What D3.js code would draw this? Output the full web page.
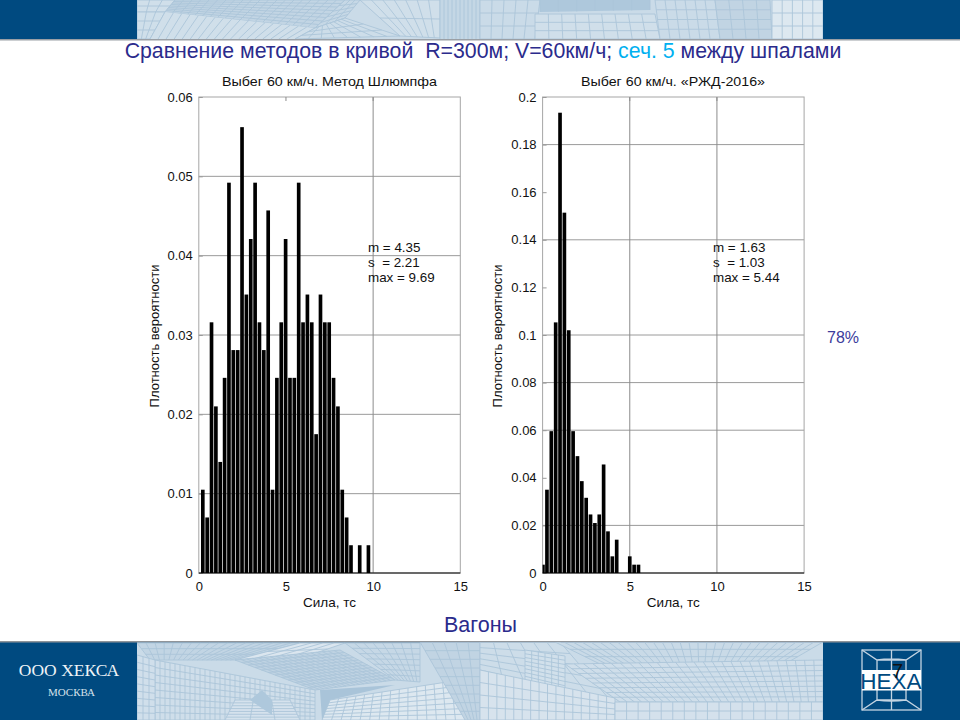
<!DOCTYPE html>
<html lang="ru">
<head>
<meta charset="UTF-8">
<title>Сравнение методов</title>
<script src="https://d3js.org/d3.v7.min.js"></script>
<style>
  html, body { margin: 0; padding: 0; background: #fff; }
  svg { display: block; }
  text { font-family: "Liberation Sans", Arial, sans-serif; }
</style>
</head>
<body>
<div id="chart"></div>
<script>
// left plot: Метод Шлюмпфа
var leftCenters = [0.23,0.48,0.73,0.98,1.23,1.48,1.73,1.98,2.23,2.48,2.73,2.98,3.23,3.48,3.73,3.98,4.23,4.48,4.73,4.98,5.23,5.48,5.73,5.98,6.23,6.48,6.73,6.98,7.23,7.48,7.73,7.98,8.23,8.48,8.73,9.23,9.73];
var leftValues = [0.0105,0.007,0.0316,0.021,0.014,0.0246,0.0492,0.0281,0.0281,0.0562,0.0351,0.0421,0.0492,0.0316,0.0281,0.0457,0.0105,0.0246,0.0316,0.0421,0.0246,0.0246,0.0492,0.0316,0.0351,0.0316,0.0175,0.0351,0.0316,0.0316,0.0246,0.021,0.0105,0.007,0.0035,0.0035,0.0035];
var leftYTicks = [0,0.01,0.02,0.03,0.04,0.05,0.06];
var leftYGrid = [0.01,0.02,0.03,0.04,0.05];
var leftXGrid = [10];
var leftStats = ["m = 4.35","s  = 2.21","max = 9.69"];

// right plot: РЖД-2016
var rightCenters = [0.02,0.25,0.5,0.75,1,1.25,1.5,1.75,2,2.25,2.5,2.75,3,3.25,3.5,3.75,4,4.25,5,5.25,5.5];
var rightValues = [0.0035,0.035,0.0596,0.1053,0.1934,0.1514,0.102,0.0596,0.0491,0.0386,0.0316,0.0246,0.021,0.0246,0.0456,0.0175,0.007,0.014,0.007,0.0035,0.0035];
var rightYTicks = [0,0.02,0.04,0.06,0.08,0.1,0.12,0.14,0.16,0.18,0.2];
var rightYGrid = [0.02,0.06,0.08,0.1,0.14,0.18];
var rightXGrid = [5,10];
var rightStats = ["m = 1.63","s  = 1.03","max = 5.44"];

var xTicks = [0,5,10,15];

var svg = d3.select("#chart").append("svg").attr("width", 960).attr("height", 720);

// header and footer bands
var blue = "#004a80";
svg.append("rect").attr("width", 960).attr("height", 39).attr("fill", blue);
svg.append("rect").attr("y", 642).attr("width", 960).attr("height", 78).attr("fill", blue);
svg.append("rect").attr("y", 39).attr("width", 960).attr("height", 1.5).attr("fill", "#9a9fa5");
svg.append("rect").attr("y", 641).attr("width", 960).attr("height", 1.5).attr("fill", "#8f9499");

// decorative mesh: patch = corners TL,TR,BR,BL, cells across, cells down, fill
var meshTop = [
  [[137,0],[823,0],[823,39],[137,39],1,1,"#cadbe8"],
  [[137,0],[175,0],[165,12],[137,12],3,2,"#d0dfea"],
  [[175,0],[345,0],[315,28],[165,12],20,8,"#c2d5e4"],
  [[137,12],[165,12],[150,39],[137,39],3,3,"#cfdfea"],
  [[165,12],[315,28],[295,39],[150,39],18,1,"#d0dfea"],
  [[345,0],[360,0],[345,18],[315,28],3,5,"#c6d8e6"],
  [[315,28],[345,18],[400,36],[295,39],8,3,"#cddde9"],
  [[360,0],[440,0],[440,38],[400,36],7,2,"#d0dfea"],
  [[440,0],[480,0],[480,39],[440,39],10,1,"#c4d7e5"],
  [[480,0],[540,0],[535,39],[480,39],5,3,"#cadbe8"],
  [[540,0],[650,0],[650,10],[540,12],6,1,"#aec8dc"],
  [[535,14],[655,14],[660,39],[535,39],9,3,"#d0dfea"],
  [[655,0],[715,0],[720,39],[660,39],6,4,"#cadbe8"],
  [[715,0],[770,0],[772,39],[720,39],4,4,"#c1d4e3"],
  [[772,0],[823,0],[823,39],[772,39],5,3,"#dde8f0"]
];
var meshBottom = [
  [[137,642],[823,642],[823,720],[137,720],1,1,"#cadbe8"],
  [[137,643],[300,643],[235,660],[150,660],18,3,"#c2d5e4"],
  [[300,643],[345,643],[310,655],[235,660],4,2,"#dbe6ef"],
  [[235,660],[340,650],[395,680],[315,690],18,12,"#bfd3e3"],
  [[155,660],[315,690],[315,720],[155,720],32,8,"#cfdeea"],
  [[137,655],[155,660],[155,720],[137,720],3,9,"#d0dfeb"],
  [[345,643],[420,643],[420,682],[395,680],8,7,"#c6d8e6"],
  [[330,700],[460,680],[465,720],[322,720],15,7,"#dde8f0"],
  [[320,690],[395,685],[330,700],[322,720],1,1,"#a9c4d9"],
  [[420,642],[480,642],[480,720],[465,720],5,9,"#c1d4e3"],
  [[225,720],[235,700],[290,700],[300,720],7,3,"#d5e2ed"],
  [[250,700],[262,690],[272,700],[272,715],1,1,"#aec8dc"],
  [[480,642],[560,642],[610,700],[480,670],6,5,"#cddde9"],
  [[555,642],[823,642],[785,664],[600,664],30,3,"#c9dae7"],
  [[525,650],[565,656],[565,690],[525,680],6,8,"#d1e0eb"],
  [[480,670],[615,698],[615,720],[480,720],16,4,"#d7e3ed"],
  [[565,664],[823,660],[823,702],[620,702],28,8,"#cfdeea"],
  [[615,702],[823,702],[823,720],[615,720],18,2,"#d4e1ec"]
];

function lerp(a, b, t) { return [a[0] + (b[0] - a[0]) * t, a[1] + (b[1] - a[1]) * t]; }

function drawMesh(patches, bx, by, bw, bh, id) {
  svg.append("clipPath").attr("id", id).append("rect")
    .attr("x", bx).attr("y", by).attr("width", bw).attr("height", bh);
  var g = svg.append("g").attr("clip-path", "url(#" + id + ")");
  var line = d3.line();
  patches.forEach(function(p) {
    g.append("path").attr("d", line([p[0], p[1], p[2], p[3]]) + "Z").attr("fill", p[6]);
    var d = "";
    for (var i = 0; i <= p[4]; i++) {
      if (p[4] == 1) break;
      d += line([lerp(p[0], p[1], i / p[4]), lerp(p[3], p[2], i / p[4])]);
    }
    for (var j = 0; j <= p[5]; j++) {
      if (p[5] == 1) break;
      d += line([lerp(p[0], p[3], j / p[5]), lerp(p[1], p[2], j / p[5])]);
    }
    g.append("path").attr("d", d).attr("fill", "none").attr("stroke", "#abc5d9").attr("stroke-width", 0.9);
  });
}
drawMesh(meshTop, 137, 0, 686, 39, "clipTop");
drawMesh(meshBottom, 137, 642.5, 686, 78, "clipBottom");

// main title
var title = svg.append("text").attr("x", 483).attr("y", 58).attr("text-anchor", "middle")
  .attr("font-size", 21.3).attr("fill", "#2b2b8c").attr("xml:space", "preserve");
title.append("tspan").text("Сравнение методов в кривой  R=300м; V=60км/ч; ");
title.append("tspan").attr("fill", "#00b0f0").text("сеч. 5");
title.append("tspan").text(" между шпалами");

svg.append("text").attr("x", 480.5).attr("y", 632).attr("text-anchor", "middle")
  .attr("font-size", 21.5).attr("fill", "#2b2b8c").text("Вагоны");
svg.append("text").attr("x", 827).attr("y", 343).attr("font-size", 16).attr("fill", "#3c3c9c").text("78%");

// footer text and logo
svg.append("text").attr("x", 69).attr("y", 676).attr("text-anchor", "middle")
  .style("font-family", "'Liberation Serif', serif")
  .attr("font-size", 17.5).attr("fill", "#eef3f7").text("ООО ХЕКСА");
svg.append("text").attr("x", 71.5).attr("y", 696).attr("text-anchor", "middle")
  .style("font-family", "'Liberation Serif', serif")
  .attr("font-size", 11).attr("fill", "#d5e1ea").text("МОСКВА");

var logo = svg.append("g").attr("fill", "none").attr("stroke", "#c3d4e2").attr("stroke-width", 1.3);
logo.append("rect").attr("x", 862).attr("y", 650).attr("width", 59).attr("height", 60);
logo.append("path").attr("d", "M862,650L877,660H906L921,650M862,710L877,700H906L921,710M877,660V670M906,660V670M877,690V700M906,690V700M891.5,650V670M891.5,690V710M877,660Q891,658 906,660M877,700Q891,702 906,700");
svg.append("rect").attr("x", 862).attr("y", 670).attr("width", 59).attr("height", 20.5).attr("fill", "#fff");
svg.append("text").attr("x", 891).attr("y", 688.5).attr("text-anchor", "middle")
  .attr("font-size", 22.5).attr("fill", blue).text("HEXA");
svg.append("text").attr("x", 897.5).attr("y", 678).attr("text-anchor", "middle")
  .attr("font-size", 20).attr("fill", "#111").text("7");

function drawPlot(opt) {
  var x = d3.scaleLinear().domain([0, 15]).range([opt.left, opt.left + 261.5]);
  var y = d3.scaleLinear().domain([0, opt.ymax]).range([573, 97]);

  // grid
  svg.append("g").selectAll("line").data(opt.yGrid).join("line")
    .attr("x1", x(0)).attr("x2", x(15))
    .attr("y1", d => y(d)).attr("y2", d => y(d))
    .attr("stroke", "#9a9a9a").attr("stroke-width", 1);
  svg.append("g").selectAll("line").data(opt.xGrid).join("line")
    .attr("x1", d => x(d)).attr("x2", d => x(d))
    .attr("y1", y(0)).attr("y2", y(opt.ymax))
    .attr("stroke", "#8c8c8c").attr("stroke-width", 1);

  // frame
  svg.append("rect").attr("x", x(0)).attr("y", y(opt.ymax))
    .attr("width", x(15) - x(0)).attr("height", y(0) - y(opt.ymax))
    .attr("fill", "none").attr("stroke", "#a6a6a6").attr("stroke-width", 1);

  // axes
  var gx = svg.append("g").attr("transform", "translate(0,573)")
    .call(d3.axisBottom(x).tickValues(xTicks).tickSize(0).tickPadding(9).tickFormat(d3.format("d")));
  var gy = svg.append("g").attr("transform", "translate(" + x(0) + ",0)")
    .call(d3.axisLeft(y).tickValues(opt.yTicks).tickSize(-4).tickPadding(6).tickFormat(d => String(d)));
  [gx, gy].forEach(function(g) {
    g.select(".domain").remove();
    g.selectAll("text").attr("font-size", 13).attr("fill", "#111")
      .style("font-family", "'Liberation Sans', Arial, sans-serif");
    g.selectAll("line").attr("stroke", "#9a9a9a");
  });
  // top ticks at x = 5, 10
  svg.append("g").selectAll("line").data(xTicks.slice(1, 3)).join("line")
    .attr("x1", d => x(d)).attr("x2", d => x(d))
    .attr("y1", y(opt.ymax)).attr("y2", y(opt.ymax) + 4).attr("stroke", "#8c8c8c");

  // bars
  var barW = x(0.21) - x(0);
  svg.append("g").selectAll("rect").data(opt.centers).join("rect")
    .attr("x", d => Math.max(x(d) - barW / 2, x(0)))
    .attr("width", d => x(d) + barW / 2 - Math.max(x(d) - barW / 2, x(0)))
    .attr("y", (d, i) => y(opt.values[i]))
    .attr("height", (d, i) => y(0) - y(opt.values[i]))
    .attr("fill", "#000");

  // zero line
  svg.append("line").attr("x1", x(0)).attr("x2", x(15)).attr("y1", 573).attr("y2", 573)
    .attr("stroke", "#000").attr("stroke-width", 1.2);

  // labels
  svg.append("text").attr("x", opt.titleX).attr("y", 85.5).attr("text-anchor", "middle")
    .attr("font-size", 13).attr("fill", "#111")
    .attr("textLength", opt.titleW).attr("lengthAdjust", "spacingAndGlyphs").text(opt.title);
  svg.append("text").attr("x", x(7.5)).attr("y", 607).attr("text-anchor", "middle")
    .attr("font-size", 13.5).attr("fill", "#111").text("Сила, тс");
  svg.append("text").attr("transform", "translate(" + opt.yLabelX + ",336) rotate(-90)")
    .attr("text-anchor", "middle").attr("font-size", 13).attr("fill", "#111").text("Плотность вероятности");

  svg.append("g").selectAll("text").data(opt.stats).join("text")
    .attr("xml:space", "preserve")
    .attr("x", opt.statsX).attr("y", (d, i) => 252 + i * 15)
    .attr("font-size", 13.4).attr("fill", "#111").text(d => d);
}

drawPlot({
  left: 198.8, ymax: 0.06, centers: leftCenters, values: leftValues,
  yTicks: leftYTicks, yGrid: leftYGrid, xGrid: leftXGrid, stats: leftStats, statsX: 368,
  title: "Выбег 60 км/ч. Метод Шлюмпфа", titleX: 329.5, titleW: 215, yLabelX: 159
});
drawPlot({
  left: 542.6, ymax: 0.2, centers: rightCenters, values: rightValues,
  yTicks: rightYTicks, yGrid: rightYGrid, xGrid: rightXGrid, stats: rightStats, statsX: 713,
  title: "Выбег 60 км/ч. «РЖД-2016»", titleX: 673, titleW: 184, yLabelX: 502
});
</script>
</body>
</html>
